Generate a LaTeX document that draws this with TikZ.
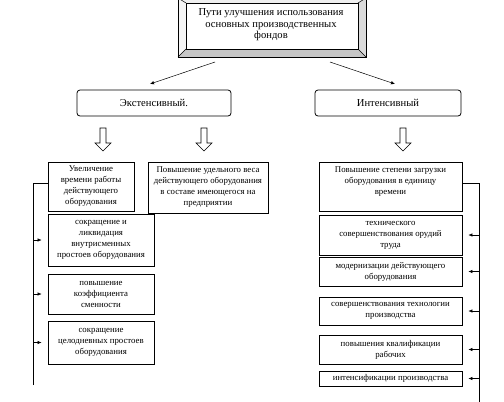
\documentclass[tikz,border=0pt]{standalone}
\usepackage{fontspec}
\setmainfont{Liberation Serif}
\usetikzlibrary{arrows.meta}
\begin{document}
\begin{tikzpicture}[x=1pt,y=-1pt,
  box/.style={draw, line width=0.8pt, align=center, inner sep=0.5pt, font=\fontsize{8.8}{11}\selectfont},
  rbox/.style={draw, rounded corners=3pt, line width=0.8pt, font=\fontsize{10.6}{12}\selectfont},
  arr/.style={-{Latex[length=4pt,width=3.5pt]}, line width=0.5pt},
  hol/.style={draw, line width=0.6pt, fill=white},
  trunk/.style={line width=0.8pt}]
\useasboundingbox (0,0) rectangle (504,402);
% bevel frame of the title
\fill[gray!12] (178,-2) -- (366,-2) -- (358,3) -- (186,3) -- cycle;
\fill[gray!8] (178,-2) -- (186,3) -- (186,49) -- (178,57) -- cycle;
\fill[gray!28] (366,-2) -- (366,57) -- (358,49) -- (358,3) -- cycle;
\fill[gray!45] (178,57) -- (366,57) -- (358,49) -- (186,49) -- cycle;
\draw[line width=0.8pt] (178,-2) rectangle (366,57);
\draw[line width=0.5pt] (186,3) rectangle (358,49);
\draw[line width=0.5pt] (178,-2) -- (186,3) (366,-2) -- (358,3) (178,57) -- (186,49) (366,57) -- (358,49);
\node[align=center, inner sep=0pt, font=\fontsize{10.6}{11.5}\selectfont] (top) at (271,25)
  {Пути улучшения использования\\основных производственных\\фондов};
\coordinate (ts1) at (215,62); \coordinate (te1) at (150,84);
\coordinate (ts2) at (330,62); \coordinate (te2) at (395,84);
\draw[arr] (ts1) -- (te1);
\draw[arr] (ts2) -- (te2);
% second level
\node[rbox, minimum width=154, minimum height=26] (ext) at (154,103) {Экстенсивный.};
\node[rbox, minimum width=146, minimum height=26] (int) at (388,103) {Интенсивный};
% hollow arrows
\foreach \x in {103,204,403}{
  \path[hol] (\x-3,128) -- (\x+3,128) -- (\x+3,143) -- (\x+8,143) -- (\x,151)
    -- (\x-8,143) -- (\x-3,143) -- cycle;
}
% left boxes
\node[box, minimum width=86, minimum height=49] (inc) at (91,186.5)
  {Увеличение\\времени работы\\действующего\\оборудования};
\node[box, minimum width=120, minimum height=51] (ud) at (208,187.5)
  {Повышение удельного веса\\действующего оборудования\\в составе имеющегося на\\предприятии};
\node[box, minimum width=106, minimum height=52] (b1) at (101,240)
  {сокращение и\\ликвидация\\внутрисменных\\простоев оборудования};
\node[box, minimum width=106, minimum height=40] (b2) at (101,294)
  {повышение\\коэффициента\\сменности};
\node[box, minimum width=106, minimum height=43] (b3) at (101,342.5)
  {сокращение\\целодневных простоев\\оборудования};
\coordinate (lt) at (33,183); \coordinate (lb) at (33,385);
\draw[trunk] (lb) -- (lt) -- (lt -| inc.west);
\foreach \b in {b1,b2,b3}{
  \draw[arr, shorten >=6pt] (\b.west -| lt) -- (\b.west);
}
% right boxes
\node[box, minimum width=143, minimum height=49] (pz) at (390.5,186.5)
  {Повышение степени загрузки\\оборудования в единицу\\времени\\\mbox{}};
\node[box, minimum width=143, minimum height=40] (r1) at (390.5,235)
  {технического\\совершенствования орудий\\труда};
\node[box, minimum width=143, minimum height=29] (r2) at (390.5,271.5)
  {модернизации действующего\\оборудования};
\node[box, minimum width=143, minimum height=28] (r3) at (390.5,311)
  {совершенствования технологии\\производства};
\node[box, minimum width=143, minimum height=29] (r4) at (390.5,349.5)
  {повышения квалификации\\рабочих};
\node[box, minimum width=143, minimum height=15] (r5) at (390.5,378.5)
  {интенсификации производства};
\coordinate (rt) at (479,183); \coordinate (rb) at (479,402);
\draw[trunk] (pz.east |- rt) -- (rt) -- (rb);
\foreach \b in {r1,r2,r3,r4,r5}{
  \draw[arr, shorten >=6pt] (\b.east -| rt) -- (\b.east);
}
\end{tikzpicture}
\end{document}
